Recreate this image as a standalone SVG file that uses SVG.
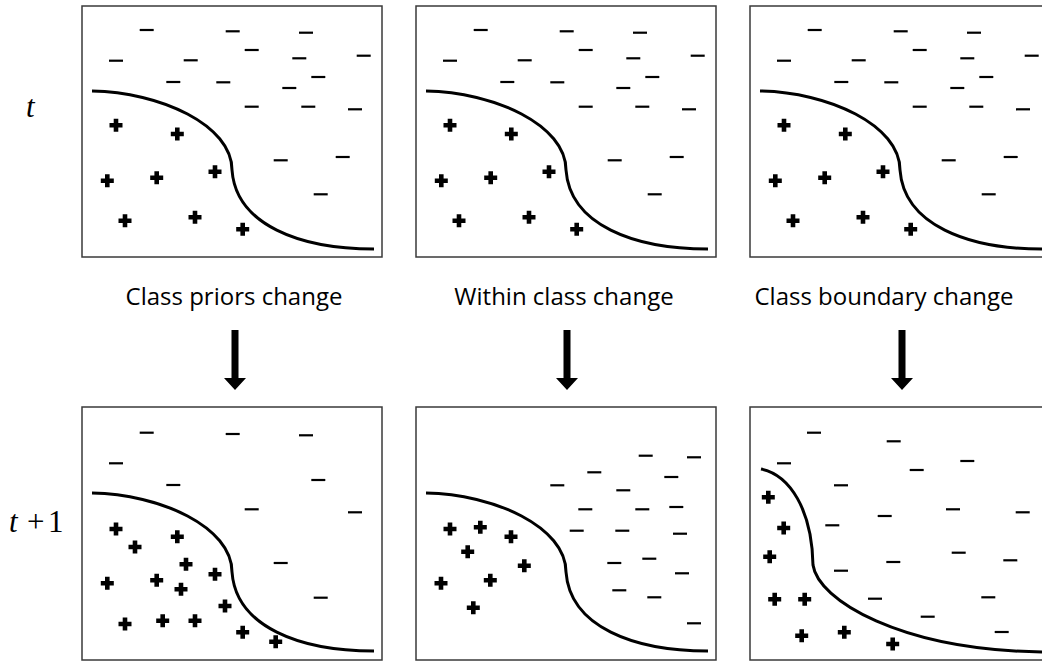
<svg xmlns="http://www.w3.org/2000/svg" xmlns:xlink="http://www.w3.org/1999/xlink" width="1042" height="662" viewBox="0 0 1042 662">
<style>
.frame{fill:#fff;stroke:#3a3a3a;stroke-width:1.5}
.bound{fill:none;stroke:#000;stroke-width:3}
.lbl{font-family:"Open Sans","Liberation Sans",sans-serif;font-size:24px;fill:#000;text-anchor:middle}
.math{font-family:"Liberation Serif","Times New Roman",serif;font-size:31px;fill:#000}
.arrow{fill:#000;stroke:none}
</style>
<defs>
<path id="m" d="M-7,0H7" stroke="#000" stroke-width="2.2" fill="none"/>
<path id="p" d="M-6.5,0H6.5M0,-6.5V6.5" stroke="#000" stroke-width="4.6" fill="none"/>
<path id="curveA" class="bound" d="M92,91 C160,92 232,125 232,170 C236,225 300,249 374,249"/>
<g id="topContent">
<use href="#curveA"/>
<use href="#m" x="146.7" y="30"/><use href="#m" x="232.7" y="31.3"/><use href="#m" x="306" y="32.7"/>
<use href="#m" x="251.7" y="50"/><use href="#m" x="116" y="60.7"/><use href="#m" x="190.7" y="60.3"/>
<use href="#m" x="299.3" y="58.3"/><use href="#m" x="363.7" y="55.7"/><use href="#m" x="173.3" y="82"/>
<use href="#m" x="223.3" y="82.3"/><use href="#m" x="318.3" y="77"/><use href="#m" x="289.3" y="88"/>
<use href="#m" x="251.7" y="106.7"/><use href="#m" x="308.3" y="106.7"/><use href="#m" x="355" y="109.3"/>
<use href="#m" x="280.7" y="160.3"/><use href="#m" x="342.7" y="157"/><use href="#m" x="320.7" y="194.3"/>
<use href="#p" x="116" y="125.3"/><use href="#p" x="177.3" y="134"/><use href="#p" x="107.3" y="180.7"/>
<use href="#p" x="156.7" y="177.7"/><use href="#p" x="215" y="171.7"/><use href="#p" x="125" y="220.7"/>
<use href="#p" x="195" y="217.3"/><use href="#p" x="242.7" y="229.3"/>
</g>
</defs>

<text class="math" x="26" y="117" font-style="italic">t</text>
<g class="math">
<text x="9" y="532" font-style="italic">t</text>
<text x="27" y="532">+</text>
<text x="48" y="532">1</text>
</g>

<g id="panel-t-priors">
<rect class="frame" x="82" y="6" width="300" height="251"/>
<use href="#topContent"/>
</g>
<g id="panel-t-within">
<rect class="frame" x="416" y="6" width="300" height="251"/>
<use href="#topContent" transform="translate(334,0)"/>
</g>
<g id="panel-t-boundary">
<rect class="frame" x="750" y="6" width="300" height="251"/>
<use href="#topContent" transform="translate(668,0)"/>
</g>

<g id="label-priors"><text class="lbl" x="234" y="305">Class priors change</text></g>
<g id="label-within"><text class="lbl" x="564" y="305">Within class change</text></g>
<g id="label-boundary"><text class="lbl" x="884" y="305">Class boundary change</text></g>

<g id="connectors">
<path class="arrow" d="M231.5,330H238.5V378H246L235,390L224,378H231.5Z"/>
<path class="arrow" d="M563.5,330H570.5V378H578L567,390L556,378H563.5Z"/>
<path class="arrow" d="M898.5,330H905.5V378H913L902,390L891,378H898.5Z"/>
</g>

<g id="panel-t1-priors">
<rect class="frame" x="82" y="407" width="300" height="253"/>
<use href="#curveA" transform="translate(0,402)"/>
<use href="#m" x="146.7" y="432.7"/><use href="#m" x="232.7" y="434"/><use href="#m" x="306" y="435.3"/>
<use href="#m" x="116" y="463.3"/><use href="#m" x="318.3" y="480"/><use href="#m" x="173.3" y="485"/>
<use href="#m" x="251.7" y="509.3"/><use href="#m" x="355" y="512.3"/><use href="#m" x="280.7" y="563"/>
<use href="#m" x="320.7" y="597.7"/>
<use href="#p" x="116" y="529"/><use href="#p" x="135" y="547"/><use href="#p" x="177.3" y="536.7"/>
<use href="#p" x="186" y="564.3"/><use href="#p" x="107.3" y="583.3"/><use href="#p" x="156.7" y="580.3"/>
<use href="#p" x="181" y="589.3"/><use href="#p" x="215" y="574.3"/><use href="#p" x="225" y="606"/>
<use href="#p" x="125" y="624"/><use href="#p" x="162.7" y="620.7"/><use href="#p" x="195" y="620.7"/>
<use href="#p" x="242.7" y="632.3"/><use href="#p" x="275.7" y="641.7"/>
</g>

<g id="panel-t1-within">
<rect class="frame" x="416" y="407" width="300" height="253"/>
<use href="#curveA" transform="translate(334,402)"/>
<use href="#m" x="645.7" y="455.7"/><use href="#m" x="694" y="457.3"/><use href="#m" x="594.3" y="472.3"/>
<use href="#m" x="671.3" y="477"/><use href="#m" x="557.3" y="485.3"/><use href="#m" x="623.3" y="490.3"/>
<use href="#m" x="585.3" y="509.3"/><use href="#m" x="642.3" y="509.3"/><use href="#m" x="676.3" y="507"/>
<use href="#m" x="576.7" y="530.7"/><use href="#m" x="622.3" y="530.7"/><use href="#m" x="680" y="533.7"/>
<use href="#m" x="614.3" y="563"/><use href="#m" x="649.3" y="558.7"/><use href="#m" x="682" y="573.3"/>
<use href="#m" x="619.3" y="590.3"/><use href="#m" x="654.3" y="597.3"/><use href="#m" x="694" y="623.3"/>
<use href="#p" x="450" y="529"/><use href="#p" x="480.3" y="527.3"/><use href="#p" x="511" y="536.7"/>
<use href="#p" x="467.7" y="551.7"/><use href="#p" x="524.3" y="565.7"/><use href="#p" x="490.3" y="580.3"/>
<use href="#p" x="441" y="583.3"/><use href="#p" x="473.3" y="607.7"/>
</g>

<g id="panel-t1-boundary">
<rect class="frame" x="750" y="407" width="300" height="253"/>
<path class="bound" d="M761,469 C790,475 812,510 813,565 C818,600 900,650 1042,652"/>
<use href="#m" x="814" y="432.7"/><use href="#m" x="893.7" y="441.3"/><use href="#m" x="784" y="463.3"/>
<use href="#m" x="967.3" y="461"/><use href="#m" x="916.7" y="470"/><use href="#m" x="841" y="485.3"/>
<use href="#m" x="953" y="509.3"/><use href="#m" x="1022.7" y="512.3"/><use href="#m" x="884.7" y="516"/>
<use href="#m" x="832.3" y="525.3"/><use href="#m" x="958.7" y="552.7"/><use href="#m" x="1010.3" y="560.3"/>
<use href="#m" x="893.3" y="562"/><use href="#m" x="841" y="570.7"/><use href="#m" x="875" y="598.7"/>
<use href="#m" x="988.3" y="597.3"/><use href="#m" x="927.7" y="616.7"/><use href="#m" x="1001.7" y="632"/>
<use href="#p" x="768.3" y="497.3"/><use href="#p" x="783.7" y="528"/><use href="#p" x="769.7" y="556.7"/>
<use href="#p" x="774.7" y="599.3"/><use href="#p" x="804.7" y="599.3"/><use href="#p" x="801.7" y="635.7"/>
<use href="#p" x="844.3" y="632.3"/><use href="#p" x="892.7" y="644"/>
</g>
</svg>
